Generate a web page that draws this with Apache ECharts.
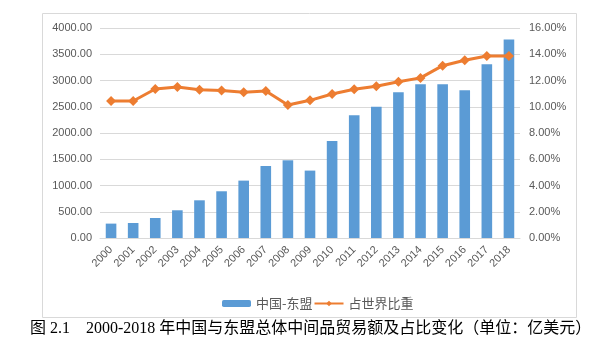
<!DOCTYPE html>
<html>
<head>
<meta charset="utf-8">
<script src="https://cdn.jsdelivr.net/npm/echarts@6/dist/echarts.min.js"></script>
<style>
  html, body { margin: 0; padding: 0; background: #fff; }
  #main { width: 613px; height: 351px; }
</style>
</head>
<body>
<div id="main"></div>
<script>
// 2000-2018 中国与东盟中间品贸易额（亿美元）及占世界比重（%）
var years = ["2000", "2001", "2002", "2003", "2004", "2005", "2006", "2007", "2008", "2009",
  "2010", "2011", "2012", "2013", "2014", "2015", "2016", "2017", "2018"];
var tradeValue = [274, 286, 381, 528, 718, 890, 1093, 1371, 1480, 1284,
  1848, 2337, 2502, 2775, 2928, 2930, 2813, 3308, 3779];
var worldShare = [10.44, 10.44, 11.35, 11.50, 11.30, 11.23, 11.10, 11.20, 10.13, 10.49,
  10.97, 11.33, 11.56, 11.90, 12.20, 13.13, 13.54, 13.87, 13.87];
var captionText = "图 2.1    2000-2018 年中国与东盟总体中间品贸易额及占比变化（单位：亿美元）";

var chart = echarts.init(document.getElementById("main"));
chart.setOption({
  animation: false,
  textStyle: { fontFamily: "Liberation Sans, Noto Sans CJK SC" },
  grid: {
    left: 100,
    right: 93,
    top: 28,
    bottom: 113
  },
  legend: {
    data: ["中国-东盟", "占世界比重"],
    left: 217,
    top: 292,
    itemWidth: 29,
    itemHeight: 7,
    itemGap: 1,
    textStyle: {
      color: "#595959",
      fontSize: 13,
      fontFamily: "Noto Sans CJK SC"
    }
  },
  xAxis: {
    type: "category",
    data: years,
    axisTick: { show: false },
    axisLine: {
      show: true,
      lineStyle: { color: "#d9d9d9" }
    },
    axisLabel: {
      rotate: 45,
      margin: 10,
      color: "#595959",
      fontSize: 11,
      interval: 0
    }
  },
  yAxis: [
    {
      type: "value",
      min: 0,
      max: 4000,
      interval: 500,
      axisLine: { show: false },
      axisTick: { show: false },
      splitLine: { lineStyle: { color: "#d9d9d9" } },
      axisLabel: {
        color: "#595959",
        fontSize: 11,
        margin: 8,
        formatter: function (v) { return v.toFixed(2); }
      }
    },
    {
      type: "value",
      min: 0,
      max: 16,
      interval: 2,
      axisLine: { show: false },
      axisTick: { show: false },
      splitLine: { show: false },
      axisLabel: {
        color: "#595959",
        fontSize: 11,
        margin: 9,
        formatter: function (v) { return v.toFixed(2) + "%"; }
      }
    }
  ],
  series: [
    {
      name: "中国-东盟",
      type: "bar",
      data: tradeValue,
      barWidth: "48%",
      itemStyle: { color: "#5b9bd5" }
    },
    {
      name: "占世界比重",
      type: "line",
      yAxisIndex: 1,
      data: worldShare,
      symbol: "diamond",
      symbolSize: 10,
      itemStyle: { color: "#ed7d31" },
      lineStyle: { width: 3, color: "#ed7d31" }
    }
  ],
  graphic: [
    {
      type: "rect",
      shape: { x: 42.5, y: 13.5, width: 534, height: 304 },
      style: { fill: "none", stroke: "#d9d9d9", lineWidth: 1 },
      z: -1
    },
    {
      type: "text",
      left: 30,
      top: 321,
      style: {
        text: captionText,
        fill: "#000000",
        font: "16px 'Liberation Serif', 'Noto Sans CJK SC'"
      }
    }
  ]
});
</script>
</body>
</html>
